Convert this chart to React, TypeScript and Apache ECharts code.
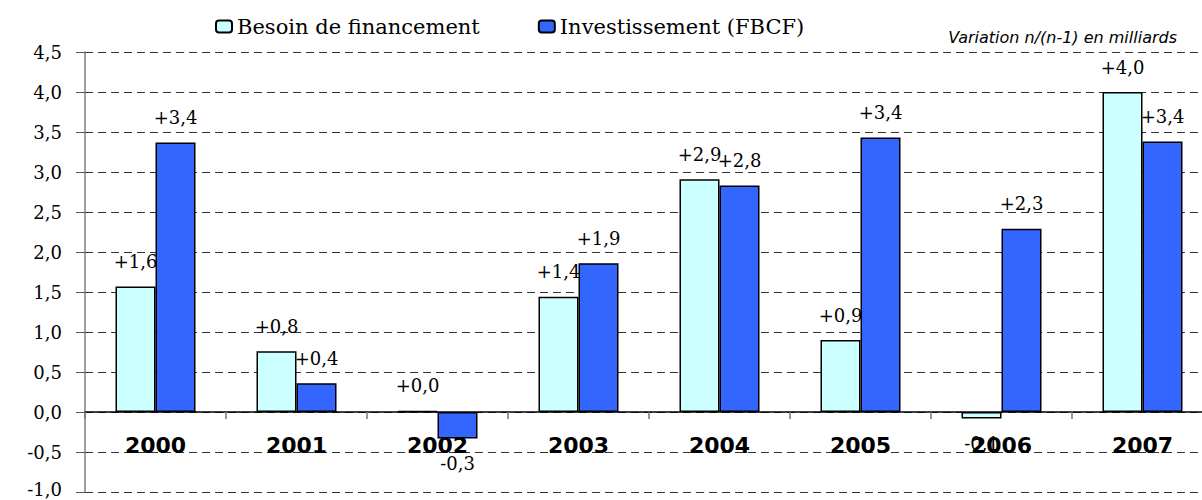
import React, { useEffect, useRef } from "react";
import * as echarts from "echarts";

const categories = ["2000", "2001", "2002", "2003", "2004", "2005", "2006", "2007"];
const besoin = [1.57, 0.76, 0.01, 1.44, 2.91, 0.9, -0.08, 4.0];
const investissement = [3.37, 0.36, -0.33, 1.86, 2.83, 3.43, 2.29, 3.38];
const seriesNames = ["Besoin de financement", "Investissement (FBCF)"];
const subtitle = "Variation n/(n-1) en milliards";

const fmtLabel = (v: number) => {
  const s = Math.abs(v).toFixed(1).replace(".", ",");
  return (v < 0 ? "-" : "+") + s;
};

const labelFont = {
  fontFamily: "DejaVu Serif",
  fontSize: 18,
  color: "#000",
};

const mkData = (arr: number[]) =>
  arr.map((v) => ({
    value: v,
    label: { position: v < 0 ? "bottom" : "top" },
  }));

export default function App() {
  const ref = useRef<HTMLDivElement>(null);
  useEffect(() => {
    if (!ref.current) return;
    const chart = echarts.init(ref.current, null, { renderer: "svg" });
    chart.setOption({
      animation: false,
      backgroundColor: "#fff",
      title: {
        text: subtitle,
        right: 20,
        top: 24,
        textStyle: {
          fontFamily: "DejaVu Sans",
          fontStyle: "italic",
          fontWeight: "normal",
          fontSize: 16,
          color: "#000",
        },
      },
      legend: {
        left: 210,
        top: 11,
        itemWidth: 16,
        itemHeight: 12,
        itemGap: 58,
        textStyle: { fontFamily: "DejaVu Serif", fontSize: 21, color: "#000" },
        data: seriesNames,
      },
      grid: {
        left: 85,
        right: -11,
        top: 52,
        bottom: 8,
        containLabel: false,
        outerBoundsMode: "none",
      },
      xAxis: {
        type: "category",
        data: categories,
        offset: -80,
        axisLine: { onZero: false, lineStyle: { color: "#000", width: 1.5 } },
        axisTick: { show: true, length: 7, interval: 0, lineStyle: { color: "#777", width: 1.5 } },
        axisLabel: {
          margin: 22,
          fontFamily: "DejaVu Sans",
          fontWeight: "bold",
          fontSize: 22,
          color: "#000",
        },
      },
      yAxis: {
        type: "value",
        min: -1,
        max: 4.5,
        interval: 0.5,
        axisLine: { show: true, lineStyle: { color: "#808080", width: 1.5 } },
        axisTick: { show: true, length: 9, lineStyle: { color: "#555" } },
        axisLabel: {
          margin: 23,
          fontFamily: "DejaVu Serif",
          fontSize: 18,
          color: "#000",
          formatter: (v: number) => {
            const s = v.toFixed(1).replace(".", ",");
            return v <= -1 ? "{m|" + s + "}" : s;
          },
          rich: {
            m: {
              fontFamily: "DejaVu Serif",
              fontSize: 18,
              color: "#000",
              lineHeight: 14,
              padding: [0, 0, 6, 0],
            },
          },
        },
        splitLine: {
          show: true,
          lineStyle: { color: "#333", type: [8, 5], width: 1 },
        },
      },
      series: [
        {
          name: seriesNames[0],
          type: "bar",
          data: mkData(besoin),
          barWidth: 40,
          barGap: "0%",
          itemStyle: { color: "#CCFFFF", borderColor: "#000", borderWidth: 1.5 },
          label: {
            show: true,
            distance: 16,
            ...labelFont,
            formatter: (p: any) => fmtLabel(p.value),
          },
        },
        {
          name: seriesNames[1],
          type: "bar",
          data: mkData(investissement),
          barWidth: 40,
          barGap: "0%",
          itemStyle: { color: "#3366FF", borderColor: "#000", borderWidth: 1.5 },
          label: {
            show: true,
            distance: 16,
            ...labelFont,
            formatter: (p: any) => fmtLabel(p.value),
          },
        },
      ],
    });
    return () => chart.dispose();
  }, []);
  return (
    <div
      ref={ref}
      style={{ position: "absolute", left: 0, top: 0, width: 1202, height: 500 }}
    />
  );
}
